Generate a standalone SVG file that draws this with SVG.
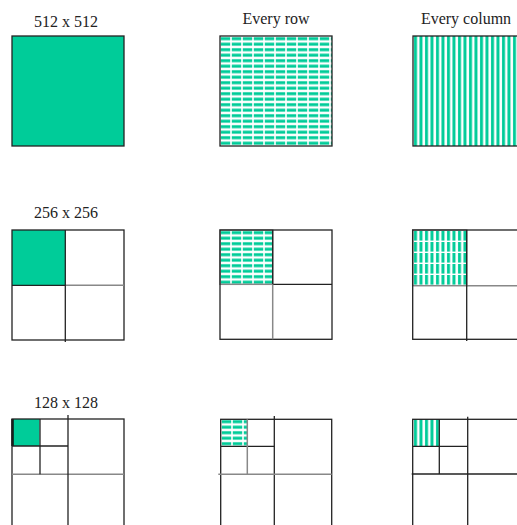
<svg xmlns="http://www.w3.org/2000/svg" xmlns:xlink="http://www.w3.org/1999/xlink" width="517" height="525" viewBox="0 0 517 525">
<style>
.lbl{font-family:"Liberation Serif","Times New Roman",serif;font-size:16px;fill:#222;text-anchor:middle}
.box{fill:none;stroke:#222;stroke-width:1.3}
.ln{stroke:#222;stroke-width:1.3;fill:none}
.gl{stroke:#888;stroke-width:1.5;fill:none}
.green{fill:#00CC99}
.qb{stroke:#888;stroke-width:1.5}
</style>
<defs>
<pattern id="rows" patternUnits="userSpaceOnUse" x="220" y="36" width="11" height="5.5">
<rect width="11" height="5.5" fill="#fff"/>
<rect x="0.8" y="1.2" width="9.4" height="3" fill="#00CC99"/>
</pattern>
<pattern id="rows2" href="#rows" xlink:href="#rows" x="220" y="230"/>
<pattern id="rows3" href="#rows" xlink:href="#rows" x="221" y="419"/>
<pattern id="cols" patternUnits="userSpaceOnUse" x="413" y="36" width="5.5" height="10">
<rect width="5.5" height="10" fill="#fff"/>
<rect x="1" y="0" width="3" height="10" fill="#00CC99"/>
</pattern>
<pattern id="cols2" patternUnits="userSpaceOnUse" x="413" y="231" width="5.5" height="11">
<rect width="5.5" height="11" fill="#fff"/>
<rect x="1" y="0" width="3" height="9.6" fill="#00CC99"/>
</pattern>
<pattern id="cols3" href="#cols" xlink:href="#cols" x="413" y="419"/>
</defs>

<g id="labels">
<text class="lbl" x="66" y="27">512 x 512</text>
<text class="lbl" x="276" y="24">Every row</text>
<text class="lbl" x="466" y="24">Every column</text>
<text class="lbl" x="66" y="218">256 x 256</text>
<text class="lbl" x="66" y="408">128 x 128</text>
</g>

<g id="r1c1">
<rect x="12" y="36" width="112" height="110" class="green"/>
<rect x="12" y="36" width="112" height="110" class="box"/>
</g>
<g id="r1c2">
<rect x="220" y="36" width="112" height="110" fill="url(#rows)"/>
<rect x="220" y="36" width="112" height="110" class="box"/>
</g>
<g id="r1c3">
<rect x="413" y="36" width="112" height="110" fill="url(#cols)"/>
<rect x="413" y="36" width="112" height="110" class="box"/>
</g>

<g id="r2c1">
<rect x="12" y="230" width="53.3" height="55.3" class="green"/>
<rect x="12" y="230" width="112" height="110" class="box"/>
<line x1="12" y1="285.3" x2="65.3" y2="285.3" class="ln"/>
<line x1="65.3" y1="285.3" x2="124" y2="285.3" class="gl"/>
<line x1="65.3" y1="230" x2="65.3" y2="342" class="ln"/>
</g>
<g id="r2c2">
<rect x="220" y="230" width="52.7" height="54.3" fill="url(#rows2)" class="qb"/>
<rect x="220" y="230" width="112" height="109.3" class="box"/>
<line x1="272.7" y1="284.3" x2="332" y2="284.3" class="ln"/>
<line x1="272.7" y1="230" x2="272.7" y2="284.3" class="ln"/>
<line x1="272.7" y1="284.3" x2="272.7" y2="339.3" class="gl"/>
</g>
<g id="r2c3">
<rect x="412.7" y="230" width="54" height="55.7" fill="url(#cols2)" class="qb"/>
<rect x="412.7" y="230" width="112" height="109.3" class="box"/>
<line x1="466.7" y1="285.7" x2="525" y2="285.7" class="gl"/>
<line x1="466.7" y1="230" x2="466.7" y2="341" class="ln"/>
</g>

<g id="r3c1">
<rect x="12" y="419" width="27.5" height="27" class="green"/>
<line x1="12.5" y1="419" x2="12.5" y2="446" stroke="#111" stroke-width="2.5"/>
<rect x="12" y="419" width="112" height="110" class="box"/>
<line x1="12" y1="474.3" x2="124" y2="474.3" class="gl"/>
<line x1="68" y1="415" x2="68" y2="525" class="ln"/>
<line x1="12" y1="446" x2="68" y2="446" class="ln"/>
<line x1="40" y1="419" x2="40" y2="474.3" class="ln"/>
</g>
<g id="r3c2">
<rect x="221" y="419.3" width="26.3" height="27" fill="url(#rows3)"/>
<rect x="220.7" y="419.3" width="111" height="110" class="box"/>
<line x1="274.3" y1="416" x2="274.3" y2="525" class="ln"/>
<line x1="221" y1="446.3" x2="274.3" y2="446.3" class="ln"/>
<line x1="247.3" y1="419.3" x2="247.3" y2="474.3" class="gl"/>
<line x1="218.3" y1="474.3" x2="331.7" y2="474.3" class="gl"/>
</g>
<g id="r3c3">
<rect x="412.7" y="419.3" width="26.6" height="27" fill="url(#cols3)"/>
<rect x="412.7" y="419.3" width="112" height="110" class="box"/>
<line x1="467.7" y1="416.7" x2="467.7" y2="525" class="ln"/>
<line x1="412.7" y1="446.3" x2="467.7" y2="446.3" class="ln"/>
<line x1="439.3" y1="419.3" x2="439.3" y2="474" class="ln"/>
<line x1="411.7" y1="474" x2="525" y2="474" class="ln"/>
</g>
</svg>
